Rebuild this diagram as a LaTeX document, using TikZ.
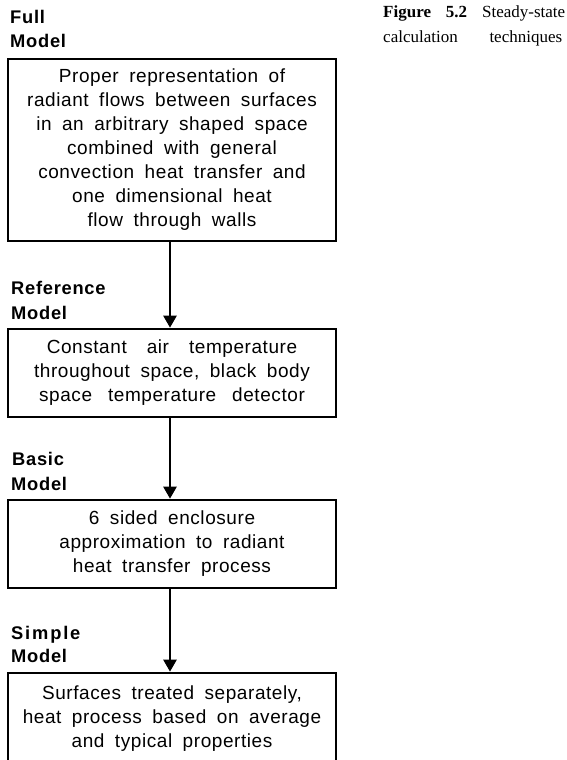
\documentclass[tikz,border=0pt]{standalone}
\usepackage{fontspec}
\setmainfont{Liberation Serif}
\newfontfamily\boxfont[LetterSpace=3]{Liberation Sans}
\newfontfamily\labfont[LetterSpace=4]{Liberation Sans}
\newcommand\bxfont{\boxfont\fontsize{19}{24}\selectfont\setlength{\spaceskip}{10.5pt}}
\usetikzlibrary{arrows.meta}
\begin{document}
\begin{tikzpicture}[x=1pt,y=-1pt,
  box/.style={draw, line width=2.6pt, rectangle, inner sep=0pt, minimum width=328pt, align=center,
    font=\bxfont},
  lab/.style={anchor=base west, inner sep=0pt, font=\labfont\bfseries\fontsize{18.3}{20}\selectfont},
  capt/.style={anchor=base west, inner sep=0pt, font=\fontsize{17}{20}\selectfont},
  conn/.style={line width=2.4pt, -{Triangle[width=13pt,length=12pt]}}]
\useasboundingbox (0,0) rectangle (567,760);
\node[box, minimum height=182pt] (full) at (172,150) {Proper representation of\\radiant flows between surfaces\\in an arbitrary shaped space\\combined with general\\convection heat transfer and\\one dimensional heat\\flow through walls};
\node[box, minimum height=88pt] (ref) at (172,373) {Constant\hspace{20pt}air\hspace{20pt}temperature\\throughout space, black body\\space\hspace{16pt}temperature\hspace{16pt}detector};
\node[box, minimum height=88pt] (basic) at (172,544) {6 sided enclosure\\approximation to radiant\\heat transfer process};
\node[box, minimum height=92pt] (simple) at (172,719) {Surfaces treated separately,\\heat process based on average\\and typical properties};
\node[lab] (lfull1) at (10,24) {Full};
\node[lab] (lfull2) at (10,48) {Model};
\node[lab] (lref1) at (11,294) {Reference};
\node[lab] (lref2) at (11,319) {Model};
\node[lab] (lbas1) at (12,465) {Basic};
\node[lab] (lbas2) at (11,490) {Model};
\node[lab] (lsim1) at (11,639) {\addfontfeatures{LetterSpace=10}Simple};
\node[lab] (lsim2) at (11,662) {Model};
\node[capt] (cap1) at (383,18) {\makebox[182pt][s]{\textbf{Figure} \textbf{5.2} Steady-state}};
\node[capt] (cap2) at (383,43) {\makebox[179pt][s]{calculation techniques}};
\draw[conn] ([xshift=-2pt]full.south) -- ([xshift=-2pt]ref.north);
\draw[conn] ([xshift=-2pt]ref.south) -- ([xshift=-2pt]basic.north);
\draw[conn] ([xshift=-2pt]basic.south) -- ([xshift=-2pt]simple.north);
\end{tikzpicture}
\end{document}
